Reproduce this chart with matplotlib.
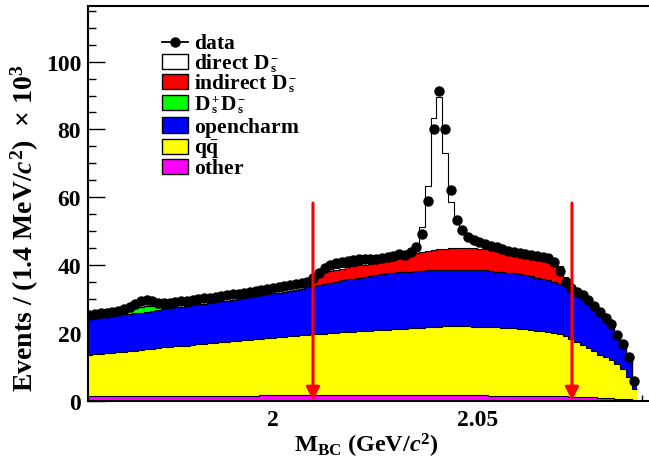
import numpy as np
import matplotlib
matplotlib.use("Agg")
import matplotlib.pyplot as plt
from matplotlib.lines import Line2D
from matplotlib.patches import Rectangle
from matplotlib.ticker import MultipleLocator, FuncFormatter

plt.rcParams['font.family'] = ['Liberation Serif', 'DejaVu Serif']
plt.rcParams['font.weight'] = 'bold'
plt.rcParams['mathtext.fontset'] = 'custom'
plt.rcParams['mathtext.rm'] = 'Liberation Serif:bold'
plt.rcParams['mathtext.it'] = 'Liberation Serif:italic:bold'
plt.rcParams['mathtext.bf'] = 'Liberation Serif:bold'

# binning (1.4 MeV bins), first bin partly outside the frame
x_lo = 1.95453
bin_w = 0.0014

# bin contents, units of 10^3 events
other = [1.5, 1.5, 1.5, 1.5, 1.4, 1.5, 1.5, 1.5, 1.5, 1.5,
         1.5, 1.5, 1.5, 1.5, 1.5, 1.5, 1.5, 1.5, 1.5, 1.5,
         1.5, 1.5, 1.5, 1.5, 1.5, 1.5, 1.5, 1.5, 1.5, 1.5,
         1.6, 1.6, 1.6, 1.6, 1.6, 1.6, 1.6, 1.6, 1.6, 1.6,
         1.6, 1.6, 1.6, 1.6, 1.6, 1.6, 1.6, 1.6, 1.6, 1.6,
         1.6, 1.6, 1.6, 1.6, 1.6, 1.6, 1.6, 1.6, 1.6, 1.6,
         1.6, 1.6, 1.6, 1.6, 1.6, 1.6, 1.6, 1.6, 1.6, 1.6,
         1.5, 1.5, 1.5, 1.5, 1.5, 1.5, 1.5, 1.5, 1.4, 1.4,
         1.4, 1.3, 1.3, 1.3, 1.2, 1.2, 1.1, 1.1, 1.0, 0.9,
         0.8, 0.7, 0.6, 0.5, 0.4, 0.2]
qqbar = [12.0, 12.2, 12.3, 12.5, 12.7, 12.8, 12.9, 13.1, 13.3, 13.5,
         13.7, 13.8, 14.0, 14.2, 14.3, 14.5, 14.6, 14.7, 14.9, 15.1,
         15.3, 15.4, 15.6, 15.8, 15.9, 16.0, 16.2, 16.3, 16.5, 16.6,
         16.7, 16.8, 17.0, 17.1, 17.2, 17.4, 17.5, 17.7, 17.8, 18.0,
         18.1, 18.2, 18.3, 18.4, 18.6, 18.7, 18.8, 18.9, 19.0, 19.1,
         19.2, 19.2, 19.3, 19.4, 19.5, 19.6, 19.7, 19.8, 19.9, 20.0,
         20.1, 20.2, 20.3, 20.4, 20.3, 20.3, 20.3, 20.2, 20.2, 20.1,
         20.2, 20.1, 20.0, 19.9, 19.8, 19.6, 19.5, 19.4, 19.3, 19.1,
         18.9, 18.7, 18.3, 17.7, 17.1, 16.2, 15.4, 14.4, 13.6, 12.7,
         12.1, 11.3, 10.2, 8.9, 6.6, 3.3]
opencharm = [10.7, 10.7, 10.8, 10.8, 10.9, 10.9, 11.1, 11.1, 11.1, 11.0,
             11.0, 11.2, 11.3, 11.4, 11.5, 11.5, 11.6, 11.7, 11.7, 11.8,
             11.8, 11.9, 11.9, 12.0, 12.1, 12.2, 12.3, 12.5, 12.6, 12.8,
             12.8, 13.0, 13.1, 13.2, 13.4, 13.4, 13.6, 13.7, 14.0, 14.2,
             14.5, 14.7, 14.9, 15.1, 15.3, 15.5, 15.6, 15.8, 16.0, 16.2,
             16.3, 16.6, 16.7, 16.8, 16.8, 16.8, 16.8, 16.9, 16.8, 16.8,
             16.8, 16.7, 16.7, 16.6, 16.7, 16.7, 16.7, 16.7, 16.7, 16.7,
             16.6, 16.5, 16.5, 16.4, 16.3, 16.2, 16.0, 15.8, 15.6, 15.4,
             15.3, 15.0, 14.8, 14.4, 14.4, 14.4, 14.3, 14.1, 13.5, 12.8,
             11.6, 10.4, 8.8, 7.2, 5.6, 3.0]
dsds = [0, 0, 0, 0, 0, 0, 0, 0.8, 1.3, 1.6,
        1.8, 1.5, 0.9, 0.2, 0, 0, 0, 0, 0, 0,
        0, 0, 0, 0, 0, 0, 0, 0, 0, 0,
        0, 0, 0, 0, 0, 0, 0, 0, 0, 0,
        0, 0, 0, 0, 0, 0, 0, 0, 0, 0,
        0, 0, 0, 0, 0, 0, 0, 0, 0, 0,
        0, 0, 0, 0, 0, 0, 0, 0, 0, 0,
        0, 0, 0, 0, 0, 0, 0, 0, 0, 0,
        0, 0, 0, 0, 0, 0, 0, 0, 0, 0,
        0, 0, 0, 0, 0, 0]
indirect = [0, 0, 0, 0, 0, 0, 0, 0, 0, 0,
            0, 0, 0, 0, 0, 0, 0, 0, 0, 0,
            0, 0, 0, 0, 0, 0, 0, 0, 0, 0,
            0, 0, 0, 0, 0, 0, 0, 0, 0, 1.2,
            2.8, 3.4, 3.5, 3.5, 3.4, 3.5, 3.6, 3.6, 3.5, 3.4,
            3.5, 3.4, 3.5, 3.7, 4.0, 4.4, 4.9, 5.2, 5.6, 5.8,
            5.9, 6.1, 6.2, 6.3, 6.4, 6.4, 6.4, 6.4, 6.3, 6.2,
            6.1, 6.0, 5.8, 5.7, 5.6, 5.6, 5.7, 5.8, 6.0, 6.2,
            6.2, 5.8, 5.0, 2.8, 0.5, 0, 0, 0, 0, 0,
            0, 0, 0, 0, 0, 0]
direct = [0, 0, 0, 0, 0, 0, 0, 0, 0, 0,
          0, 0, 0, 0, 0, 0, 0, 0, 0, 0,
          0, 0, 0, 0, 0, 0, 0, 0, 0, 0,
          0, 0, 0, 0, 0, 0, 0, 0, 0, 0.3,
          0.5, 0.5, 0.5, 0.5, 0.5, 0.5, 0.5, 0.5, 0.5, 0.5,
          0.5, 0.7, 0.8, 0.9, 1.0, 1.2, 1.6, 2.9, 7.2, 19.2,
          38.9, 44.9, 28.2, 13.8, 7.5, 4.5, 3.0, 2.3, 1.8, 1.6,
          1.4, 1.3, 1.2, 1.1, 1.0, 0.9, 0.8, 0.7, 0.6, 0.5,
          0.4, 0.4, 0.2, 0.2, 0.2, 0, 0, 0, 0, 0,
          0, 0, 0, 0, 0, 0]
data = [25.3, 25.5, 25.8, 26.0, 26.3, 26.6, 27.0, 27.6, 28.4, 29.3,
        29.7, 29.3, 28.9, 28.8, 28.9, 29.1, 29.3, 29.5, 29.7, 29.9,
        30.2, 30.4, 30.7, 31.0, 31.2, 31.4, 31.6, 31.8, 32.1, 32.3,
        32.6, 32.9, 33.1, 33.4, 33.7, 34.0, 34.3, 34.6, 35.0, 36.2,
        37.8, 39.0, 40.0, 40.5, 41.0, 41.3, 41.5, 41.7, 41.7, 41.7,
        41.8, 42.0, 42.3, 42.8, 43.2, 42.9, 44.0, 45.3, 49.2, 59.0,
        80.1, 91.4, 80.1, 62.2, 53.2, 50.4, 48.2, 47.5, 46.7, 46.2,
        45.7, 45.3, 44.8, 44.2, 44.0, 43.6, 43.3, 43.0, 42.8, 42.4,
        42.0, 40.8, 38.2, 34.9, 33.2, 32.2, 31.2, 29.7, 28.0, 26.3,
        24.3, 22.6, 19.4, 16.7, 12.8, 5.9]

cuts = [2.0098, 2.0730]
arrow_top = 58.3

# legend labels as (text, subscript, superscript) pieces, ROOT style
labels = [[(r'data', '', '')],
          [(r'direct\ D', 's', '-')],
          [(r'indirect\ D', 's', '-')],
          [(r'D', 's', '+'), (r'D', 's', '-')],
          [(r'opencharm', '', '')],
          [(r'q\bar{q}', '', '')],
          [(r'other', '', '')]]

W, H = 649, 460
fig = plt.figure(figsize=(W / 100, H / 100), dpi=100)
ax = fig.add_axes([88 / W, 1 - 401.7 / H, (W - 88) / W, (401.7 - 7) / H])

edges = x_lo + bin_w * np.arange(len(data) + 1)
centers = 0.5 * (edges[:-1] + edges[1:])

# stacked MC, bottom first
layers = [(other, '#ff00ff'), (qqbar, '#ffff00'), (opencharm, '#0000ff'),
          (dsds, '#00ff00'), (indirect, '#ff0000'), (direct, '#ffffff')]
base = np.zeros(len(data))
for vals, col in layers:
    top = base + np.array(vals)
    ax.stairs(top, edges, baseline=base, fill=True, color=col, lw=0, zorder=2)
    ax.stairs(top, edges, baseline=None, color='k', lw=0.8, zorder=3)
    base = top

ax.plot(centers, data, 'o', color='k', ms=6.5, zorder=5)

for c in cuts:
    ax.annotate('', xy=(c, 0), xytext=(c, arrow_top),
                arrowprops=dict(arrowstyle='-|>,head_length=0.5,head_width=0.25',
                                color='#ff0000', lw=2.2, shrinkA=0, shrinkB=0,
                                mutation_scale=16), zorder=6)

ax.set_xlim(1.9549, 2.0918)
ax.set_ylim(0, 116.4)
ax.xaxis.set_major_locator(MultipleLocator(0.05))
ax.xaxis.set_minor_locator(MultipleLocator(0.01))
ax.xaxis.set_major_formatter(FuncFormatter(lambda v, p: f'{v:g}'))
ax.yaxis.set_major_locator(MultipleLocator(20))
ax.yaxis.set_minor_locator(MultipleLocator(5))
ax.tick_params(which='both', direction='in', top=False, right=False, width=1, labelsize=17)
ax.tick_params(axis='y', which='major', length=12, pad=5)
ax.tick_params(axis='y', which='minor', length=6)
ax.tick_params(axis='x', which='major', length=8.5, pad=6)
ax.tick_params(axis='x', which='minor', length=4)
for s in ['left', 'bottom', 'top']:
    ax.spines[s].set_linewidth(1.5)
ax.spines['right'].set_visible(False)

fig.text(25 / W, 1 - 228 / H, r'Events / (1.4 MeV/$c^{2}$)  $\times$ 10$^{3}$',
         rotation=90, ha='center', va='center', fontsize=20)
fig.text(366 / W, 1 - 446 / H, r'M$_{\mathrm{BC}}$ (GeV/$c^{2}$)',
         ha='center', va='center', fontsize=17.5)

# legend, drawn by hand so the D_s scripts stack like ROOT's
rend = fig.canvas.get_renderer()
fs = 15.5
row_y = [42.7, 62.7, 82.7, 103.3, 126.0, 147.5, 167.5]
for i, parts in enumerate(labels):
    y = row_y[i]
    if i == 0:
        fig.add_artist(Line2D([161.7 / W, 188.3 / W], [1 - y / H, 1 - y / H],
                              color='k', lw=1.3))
        fig.add_artist(Line2D([175 / W], [1 - y / H], marker='o', color='k', ms=6.5))
    else:
        col = layers[6 - i][1]
        fig.add_artist(Rectangle((161.7 / W, 1 - (y + 7.5) / H), 26.6 / W, 15 / H,
                                 facecolor=col, edgecolor='k', lw=1.0))
    x = 194
    base_y = y + 6.5
    for main, sub, sup in parts:
        t = fig.text(x / W, 1 - base_y / H, '$\\mathrm{' + main + '}$',
                     ha='left', va='baseline', fontsize=fs)
        x = t.get_window_extent(rend).x1 + 0.5
        step = 0
        if sub:
            ts = fig.text(x / W, 1 - (base_y + 3) / H, '$\\mathrm{' + sub + '}$',
                          ha='left', va='baseline', fontsize=9.5)
            step = max(step, ts.get_window_extent(rend).width)
        if sup:
            tp = fig.text(x / W, 1 - (base_y - 8) / H, '$\\mathrm{' + sup + '}$',
                          ha='left', va='baseline', fontsize=9)
            step = max(step, tp.get_window_extent(rend).width)
        x += step + 0.5

fig.savefig('out.png', dpi=100)
